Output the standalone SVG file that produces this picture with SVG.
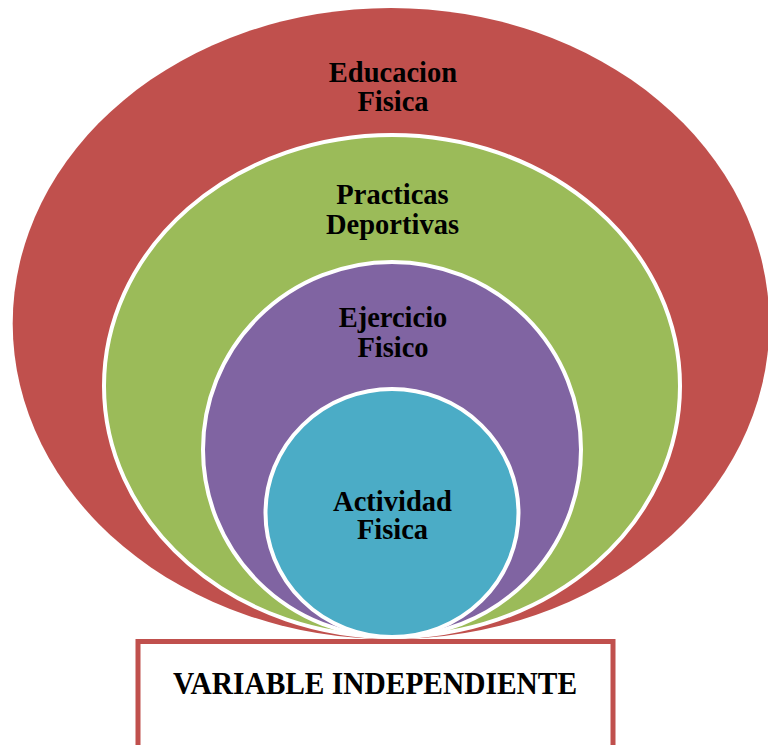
<svg xmlns="http://www.w3.org/2000/svg" width="768" height="745" viewBox="0 0 768 745">
<style>
.ring{stroke:#FFFFFF;stroke-width:4}
.lbl{font-family:"Liberation Serif","Times New Roman","DejaVu Serif",serif;font-weight:bold;font-size:28.5px;fill:#000000;text-anchor:middle}
.box{fill:#FFFFFF;stroke:#C0504D;stroke-width:5}
</style>
<rect width="768" height="745" fill="#FFFFFF"/>
<g id="connectors"></g>
<g id="educacion-fisica">
<ellipse cx="391" cy="323.5" rx="378.3" ry="315.5" fill="#C0504D"/>
<text class="lbl" x="393" y="82">Educacion</text>
<text class="lbl" x="393" y="110.5">Fisica</text>
</g>
<g id="practicas-deportivas">
<ellipse class="ring" cx="392" cy="386" rx="288" ry="251" fill="#9BBB59"/>
<text class="lbl" transform="translate(392.5,204) scale(1,1.06)">Practicas</text>
<text class="lbl" transform="translate(392.5,234) scale(1,1.06)">Deportivas</text>
</g>
<g id="ejercicio-fisico">
<ellipse class="ring" cx="392" cy="449.5" rx="189" ry="187.5" fill="#8064A2"/>
<text class="lbl" transform="translate(393,327) scale(1,1.06)">Ejercicio</text>
<text class="lbl" transform="translate(393,357) scale(1,1.06)">Fisico</text>
</g>
<g id="actividad-fisica">
<ellipse class="ring" cx="392" cy="513" rx="126.5" ry="124" fill="#4BACC6"/>
<text class="lbl" x="392.5" y="510.5">Actividad</text>
<text class="lbl" x="392.5" y="539">Fisica</text>
</g>
<g id="variable-independiente">
<rect class="box" x="138" y="641.5" width="475" height="115"/>
<text class="lbl" transform="translate(375,694) scale(1,1.1)" style="font-size:29.5px" textLength="404" lengthAdjust="spacingAndGlyphs">VARIABLE INDEPENDIENTE</text>
</g>
</svg>
